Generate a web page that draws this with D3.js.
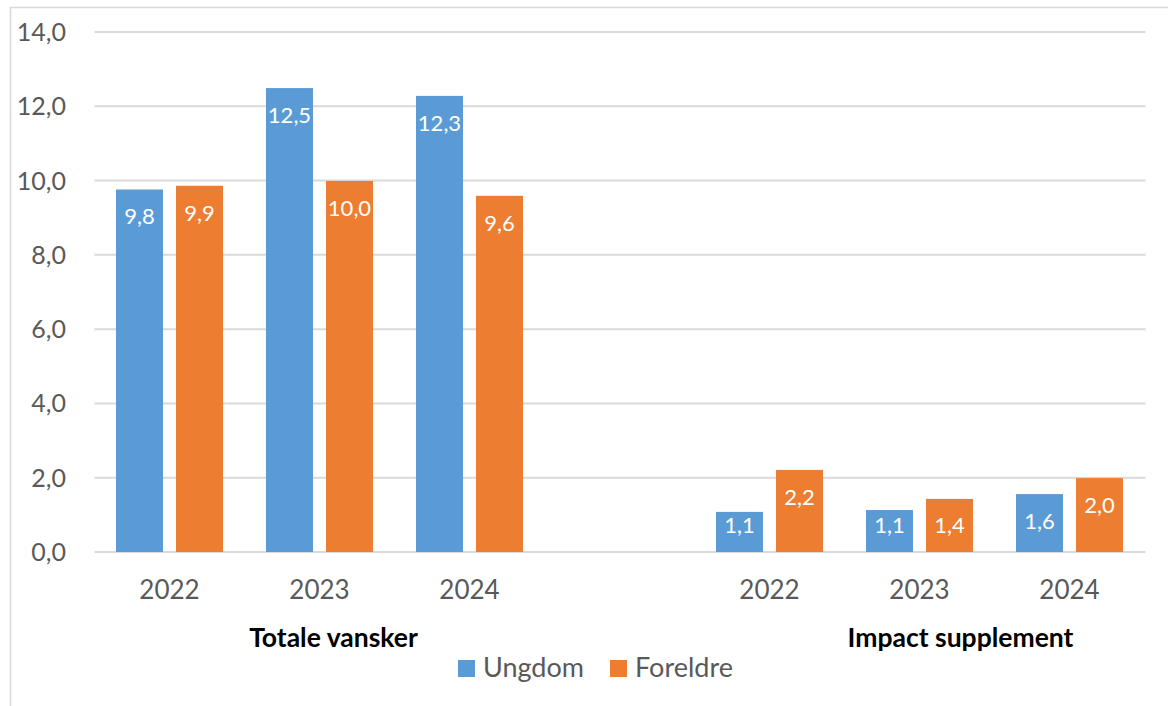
<!DOCTYPE html>
<html>
<head>
<meta charset="utf-8">
<script src="https://cdn.jsdelivr.net/npm/d3@7"></script>
<style>
  body { margin: 0; background: #fff; }
  text { font-family: Lato, "Open Sans", sans-serif; }
</style>
</head>
<body>
<div id="chart"></div>
<script>
const groups = ["Totale vansker", "Impact supplement"];
const years = ["2022", "2023", "2024"];
const series = ["Ungdom", "Foreldre"];
const ungdom = [9.76, 12.49, 12.28, 1.08, 1.13, 1.56];
const foreldre = [9.86, 9.99, 9.59, 2.21, 1.43, 1.99];
const y_ticks = [0, 2, 4, 6, 8, 10, 12, 14];
const colors = ["#5B9BD5", "#ED7D31"];

const width = 1168, height = 706;
const plot = {left: 94.5, right: 1145.5, top: 32, bottom: 552};

// categories: 3 years per group, one empty slot between the groups
let categories = [];
groups.forEach(function(g, gi) {
  if (gi > 0) categories.push("gap");
  years.forEach(function(yr) { categories.push(g + "|" + yr); });
});

let rows = [];
let k = 0;
groups.forEach(function(g) {
  years.forEach(function(yr) {
    rows.push({cat: g + "|" + yr, group: g, year: yr, values: [ungdom[k], foreldre[k]]});
    k++;
  });
});

const fmt = function(v) { return d3.format(".1f")(v).replace(".", ","); };

const svg = d3.select("#chart").append("svg")
  .attr("width", width)
  .attr("height", height);

// chart border (runs off right and bottom of the picture)
svg.append("rect")
  .attr("x", 10.5).attr("y", 7.5)
  .attr("width", 1300).attr("height", 900)
  .attr("fill", "none")
  .attr("stroke", "#d9d9d9")
  .attr("stroke-width", 1.5);

const x = d3.scaleBand()
  .domain(categories)
  .range([plot.left, plot.right - 1]);

const xi = d3.scaleBand()
  .domain(series)
  .range([21.5, 128.5])
  .paddingInner(13 / 60);

const y = d3.scaleLinear()
  .domain([0, 14])
  .range([plot.bottom, plot.top]);

// gridlines
svg.append("g")
  .selectAll("line")
  .data(y_ticks)
  .enter().append("line")
  .attr("x1", plot.left).attr("x2", plot.right)
  .attr("y1", function(d) { return y(d); })
  .attr("y2", function(d) { return y(d); })
  .attr("stroke", "#d9d9d9")
  .attr("stroke-width", 2);

// y axis labels
svg.append("g")
  .selectAll("text")
  .data(y_ticks)
  .enter().append("text")
  .attr("x", 66)
  .attr("y", function(d) { return y(d) + 9; })
  .attr("text-anchor", "end")
  .attr("font-size", 25)
  .attr("fill", "#595959")
  .text(fmt);

// bars
const cat_g = svg.append("g")
  .selectAll("g")
  .data(rows)
  .enter().append("g")
  .attr("transform", function(d) { return "translate(" + x(d.cat) + ",0)"; });

cat_g.selectAll("rect")
  .data(function(d) { return d.values; })
  .enter().append("rect")
  .attr("x", function(d, i) { return xi(series[i]); })
  .attr("width", xi.bandwidth())
  .attr("y", function(d) { return y(d); })
  .attr("height", function(d) { return y(0) - y(d); })
  .attr("fill", function(d, i) { return colors[i]; });

cat_g.selectAll(".val")
  .data(function(d) { return d.values; })
  .enter().append("text")
  .attr("class", "val")
  .attr("x", function(d, i) { return xi(series[i]) + xi.bandwidth() / 2; })
  .attr("y", function(d) { return Math.min(y(d) + 35, y(0) - 19); })
  .attr("text-anchor", "middle")
  .attr("font-size", 22)
  .attr("fill", "white")
  .text(fmt);

// year labels
cat_g.append("text")
  .attr("x", x.bandwidth() / 2)
  .attr("y", 599)
  .attr("text-anchor", "middle")
  .attr("font-size", 26)
  .attr("fill", "#595959")
  .text(function(d) { return d.year; });

// group labels
const group_shift = [14, 41];
svg.append("g")
  .selectAll("text")
  .data(groups)
  .enter().append("text")
  .attr("x", function(g, gi) {
    const first = x(g + "|" + years[0]);
    const last = x(g + "|" + years[years.length - 1]) + x.bandwidth();
    return (first + last) / 2 + group_shift[gi];
  })
  .attr("y", 647)
  .attr("text-anchor", "middle")
  .attr("font-size", 26.5)
  .attr("font-weight", "bold")
  .attr("fill", "black")
  .text(function(g) { return g; });

// legend
const legend_x = [458, 610];
const legend = svg.append("g")
  .selectAll("g")
  .data(series)
  .enter().append("g")
  .attr("transform", function(d, i) { return "translate(" + legend_x[i] + ",660)"; });

legend.append("rect")
  .attr("width", 17).attr("height", 17)
  .attr("fill", function(d, i) { return colors[i]; });

legend.append("text")
  .attr("x", 25)
  .attr("y", 17)
  .attr("font-size", 27)
  .attr("fill", "#595959")
  .text(function(d) { return d; });
</script>
</body>
</html>
